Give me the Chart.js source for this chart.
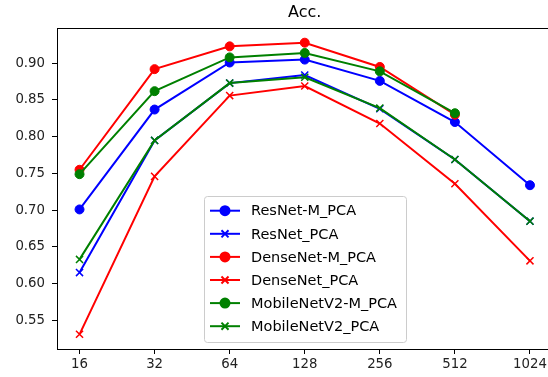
<!DOCTYPE html>
<html>
<head>
<meta charset="utf-8">
<script src="https://cdn.jsdelivr.net/npm/chart.js@4"></script>
<style>
  html, body { margin: 0; padding: 0; background: #fff; overflow: hidden; }
  #wrap { width: 560px; height: 377px; position: relative; }
</style>
</head>
<body>
<div id="wrap"><canvas id="accChart"></canvas></div>
<script>
// batch sizes on the x axis
const xLabels = ['16', '32', '64', '128', '256', '512', '1024'];
const yTicks = [0.55, 0.60, 0.65, 0.70, 0.75, 0.80, 0.85, 0.90];

const resnetM = [0.701, 0.837, 0.901, 0.905, 0.876, 0.820, 0.734];
const resnet = [0.615, 0.795, 0.873, 0.884, 0.838, 0.769, 0.685];
const densenetM = [0.755, 0.892, 0.923, 0.928, 0.895, 0.830];
const densenet = [0.531, 0.746, 0.856, 0.869, 0.818, 0.736, 0.631];
const mobileM = [0.749, 0.862, 0.908, 0.914, 0.889, 0.832];
const mobile = [0.633, 0.795, 0.873, 0.881, 0.839, 0.769, 0.685];

const seriesNames = ['ResNet-M_PCA', 'ResNet_PCA', 'DenseNet-M_PCA', 'DenseNet_PCA', 'MobileNetV2-M_PCA', 'MobileNetV2_PCA'];
const seriesValues = [resnetM, resnet, densenetM, densenet, mobileM, mobile];
const seriesColors = ['#0000ff', '#0000ff', '#ff0000', '#ff0000', '#008000', '#008000'];
const seriesMarkers = ['circle', 'crossRot', 'circle', 'crossRot', 'circle', 'crossRot'];

const FONT = '"DejaVu Sans", sans-serif';

const datasets = seriesValues.map((vals, i) => ({
    label: seriesNames[i],
    data: vals.map((v, j) => ({ x: j, y: v })),
    borderColor: seriesColors[i],
    backgroundColor: seriesColors[i],
    borderWidth: 2,
    pointStyle: seriesMarkers[i],
    pointRadius: seriesMarkers[i] === 'circle' ? 4.5 : 5,
    pointBorderWidth: seriesMarkers[i] === 'circle' ? 1 : 1.5,
    pointHoverRadius: 4.5,
    tension: 0,
    order: -i   // later series on top, like matplotlib
}));

// frame on all four sides
const framePlugin = {
    id: 'frame',
    afterDatasetsDraw(chart) {
        const a = chart.chartArea, ctx = chart.ctx;
        ctx.save();
        ctx.strokeStyle = '#000';
        ctx.lineWidth = 1;
        ctx.strokeRect(Math.round(a.left) + 0.5, Math.round(a.top) + 0.5,
            Math.round(a.right - a.left), Math.round(a.bottom - a.top));
        ctx.restore();
    }
};

// matplotlib-style legend box inside the plot
const legendPlugin = {
    id: 'boxLegend',
    afterDraw(chart) {
        const ctx = chart.ctx;
        const x0 = 204, y0 = 196, w = 202, h = 146, rowH = 23.1;
        ctx.save();
        ctx.globalAlpha = 0.8;
        ctx.fillStyle = '#fff';
        ctx.strokeStyle = '#cccccc';
        ctx.lineWidth = 1;
        ctx.beginPath();
        ctx.roundRect(x0 + 0.5, y0 + 0.5, w, h, 3);
        ctx.fill();
        ctx.globalAlpha = 1;
        ctx.stroke();
        ctx.font = '14.5px ' + FONT;
        ctx.textBaseline = 'middle';
        seriesNames.forEach((name, i) => {
            const y = y0 + 14.7 + i * rowH;
            const col = seriesColors[i];
            ctx.strokeStyle = col;
            ctx.fillStyle = col;
            ctx.lineWidth = 2;
            ctx.beginPath();
            ctx.moveTo(210, y);
            ctx.lineTo(240, y);
            ctx.stroke();
            Chart.helpers.drawPoint(ctx, {
                pointStyle: seriesMarkers[i],
                radius: seriesMarkers[i] === 'circle' ? 4.5 : 5,
                borderWidth: seriesMarkers[i] === 'circle' ? 1 : 1.5
            }, 225, y);
            if (seriesMarkers[i] === 'circle') ctx.fill();
            ctx.fillStyle = '#000';
            ctx.fillText(name, 251, y + 1);
        });
        ctx.restore();
    }
};

new Chart(document.getElementById('accChart'), {
    type: 'line',
    data: { datasets: datasets },
    options: {
        responsive: true,
        maintainAspectRatio: false,
        animation: false,
        layout: { padding: { left: 0, right: 7.5, top: 0, bottom: 0 } },
        plugins: {
            legend: { display: false },
            tooltip: { enabled: false },
            title: {
                display: true,
                text: 'Acc.',
                fullSize: false,
                color: '#000',
                font: { family: FONT, size: 16, weight: 'normal', lineHeight: 1.2 },
                padding: { top: 3.4, bottom: 5.4 }
            }
        },
        scales: {
            x: {
                type: 'linear',
                min: -0.3,
                max: 6.3,
                afterBuildTicks: s => { s.ticks = xLabels.map((_, i) => ({ value: i })); },
                afterFit: s => { s.height = 28; },
                border: { display: false },
                grid: { drawOnChartArea: false, drawTicks: true, tickLength: 5, color: '#000' },
                ticks: {
                    color: '#222', padding: 3, maxRotation: 0, autoSkip: false,
                    font: { family: FONT, size: 13.3 },
                    callback: v => xLabels[v]
                }
            },
            y: {
                type: 'linear',
                min: 0.511,
                max: 0.948,
                afterBuildTicks: s => { s.ticks = yTicks.map(v => ({ value: v })); },
                afterFit: s => { s.width = 57; },
                border: { display: false },
                grid: { drawOnChartArea: false, drawTicks: true, tickLength: 5, color: '#000' },
                ticks: {
                    color: '#222', padding: 7,
                    font: { family: FONT, size: 13.3 },
                    callback: v => v.toFixed(2)
                }
            }
        }
    },
    plugins: [framePlugin, legendPlugin]
});
</script>
</body>
</html>
